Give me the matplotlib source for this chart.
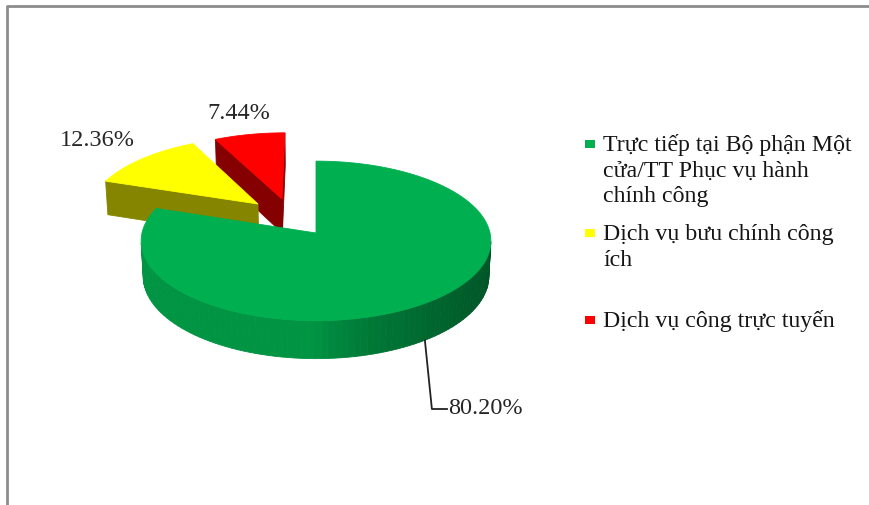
import numpy as np
import matplotlib.pyplot as plt
from matplotlib.patches import Polygon
from matplotlib.colors import to_rgb

labels = ["Trực tiếp tại Bộ phận Một\ncửa/TT Phục vụ hành\nchính công",
          "Dịch vụ bưu chính công\ních",
          "Dịch vụ công trực tuyến"]
shares = [80.20, 12.36, 7.44]
colors = ["#00B050", "#FFFF00", "#FF0000"]

# slice offsets on the pie plane (x right, y away from viewer), in radii
explode = [(0.0, 0.0), (-0.346, 0.381), (-0.204, 0.45)]
label_pos = [(448, 409), (60, 140), (207, 113)]

# camera / projection setup, output in pixels
CX, CY = 316, 234
SCALE = 174
TILT = np.radians(27)
DIST = 9.0
DEPTH = 0.23
CAM = np.array([0.0, -DIST * np.cos(TILT), DIST * np.sin(TILT)])
SERIF = "Liberation Serif"


def project(x, y, z):
    v = y * np.sin(TILT) + z * np.cos(TILT)
    d = y * np.cos(TILT) - z * np.sin(TILT)
    f = DIST / (DIST + d)
    return CX + SCALE * x * f, CY - SCALE * v * f


def depth_of(pts):
    pts = np.asarray(pts)
    return np.mean(pts[:, 1] * np.cos(TILT) - pts[:, 2] * np.sin(TILT))


def visible(normal, pts):
    c = np.mean(np.asarray(pts), axis=0)
    return np.dot(normal, CAM - c) > 1e-6


def shade(rgb, k):
    return tuple(np.clip(np.array(rgb) * k, 0, 1))


def wall_shade(th):
    s = np.sin(th)
    return 0.84 - 0.36 * max(0.0, s) ** 0.7


fig = plt.figure(figsize=(8.69, 5.06), dpi=100)
ax = fig.add_axes([0, 0, 1, 1])
ax.set_xlim(0, 869)
ax.set_ylim(506, 0)
ax.axis("off")

# chart frame
ax.plot([7, 7, 869], [506, 7, 7], color="#8c8c8c", lw=2, solid_capstyle="butt")

fr = np.array(shares) / sum(shares)
edges = np.concatenate([[0], np.cumsum(fr)]) * 2 * np.pi

slices = []
for i in range(len(shares)):
    slices.append((explode[i][1], i))
slices.sort(reverse=True)  # far slices first

for _, i in slices:
    ox, oy = explode[i]
    t0, t1 = edges[i], edges[i + 1]
    base = to_rgb(colors[i])
    faces = []

    n = max(3, int(np.degrees(t1 - t0) / 2))
    ts = np.linspace(t0, t1, n + 1)
    for a, b in zip(ts[:-1], ts[1:]):
        pa = (ox + np.sin(a), oy + np.cos(a))
        pb = (ox + np.sin(b), oy + np.cos(b))
        quad = [(pa[0], pa[1], 0), (pb[0], pb[1], 0),
                (pb[0], pb[1], -DEPTH), (pa[0], pa[1], -DEPTH)]
        m = 0.5 * (a + b)
        nrm = np.array([np.sin(m), np.cos(m), 0])
        if visible(nrm, quad):
            faces.append((depth_of(quad), quad, shade(base, wall_shade(m))))

    for t, sgn in ((t0, -1), (t1, 1)):
        rim = (ox + np.sin(t), oy + np.cos(t))
        quad = [(ox, oy, 0), (rim[0], rim[1], 0),
                (rim[0], rim[1], -DEPTH), (ox, oy, -DEPTH)]
        nrm = sgn * np.array([np.cos(t), -np.sin(t), 0])
        if visible(nrm, quad):
            faces.append((depth_of(quad), quad, shade(base, 0.52)))

    faces.sort(key=lambda f: -f[0])
    for _, quad, col in faces:
        xy = [project(*p) for p in quad]
        ax.add_patch(Polygon(xy, closed=True, facecolor=col, edgecolor=col, lw=0.6))

    tt = np.linspace(t0, t1, 4 * n + 1)
    top = [project(ox, oy, 0)] + [project(ox + np.sin(t), oy + np.cos(t), 0) for t in tt]
    ax.add_patch(Polygon(top, closed=True, facecolor=base, edgecolor=base, lw=0.6))

# percentage labels
for i, v in enumerate(shares):
    lx, ly = label_pos[i]
    if i == 0:
        ox, oy = explode[0]
        mid = 0.5 * (edges[0] + edges[1])
        axx, ayy = project(ox + np.sin(mid), oy + np.cos(mid), -DEPTH)
        ex = axx + 7
        ax.plot([axx, ex, lx - 1], [ayy, ly + 1, ly + 1], color="#222222", lw=1.3)
    ax.text(lx, ly, f"{v:.2f}%", fontsize=17.5, family=SERIF, color="#262626",
            ha="left", va="center")

# legend
leg_x, leg_text_x = 590, 603
leg_y = [151, 240, 327]
line_h = 25.5
for i, lab in enumerate(labels):
    ax.add_patch(Polygon([(leg_x - 5, leg_y[i] - 10), (leg_x + 5, leg_y[i] - 10),
                          (leg_x + 5, leg_y[i] - 2), (leg_x - 5, leg_y[i] - 2)],
                         closed=True, facecolor=colors[i], edgecolor="none"))
    for k, line in enumerate(lab.split("\n")):
        ax.text(leg_text_x, leg_y[i] + k * line_h, line, fontsize=17.2, family=SERIF,
                color="#151515", ha="left", va="baseline")

fig.savefig("out.png", dpi=100)
